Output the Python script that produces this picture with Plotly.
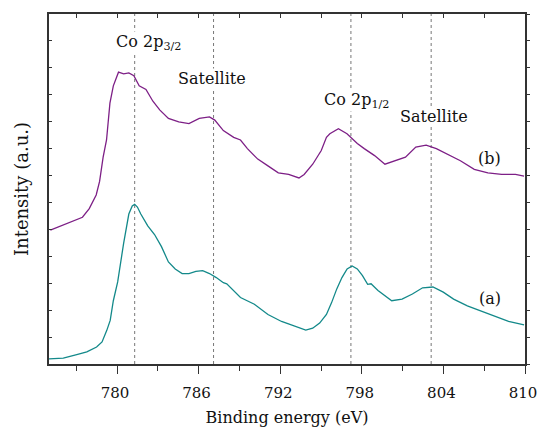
import plotly.graph_objects as go

# Curve (a) - teal
energy_a = [775.0, 776.05, 777.04, 777.78, 778.5, 778.9, 779.25, 779.5, 779.73, 780.05,
            780.49, 780.87, 781.12, 781.3, 781.5, 781.75, 782.26, 782.76, 783.27, 783.78,
            784.28, 784.79, 785.29, 785.8, 786.3, 786.8, 787.3, 787.82, 788.07, 789.08,
            790.1, 791.1, 792.1, 793.12, 793.88, 794.39, 794.9, 795.4, 795.78, 796.16,
            796.54, 796.92, 797.29, 797.67, 798.05, 798.43, 798.68, 799.19, 799.7, 800.2,
            800.96, 801.72, 802.47, 803.23, 803.99, 804.75, 805.76, 806.77, 807.78, 808.79,
            809.93]
intensity_a = [0.19, 0.22, 0.35, 0.45, 0.63, 0.82, 1.25, 1.62, 2.35, 3.05,
               4.49, 5.57, 5.87, 5.93, 5.83, 5.57, 5.13, 4.81, 4.36, 3.79,
               3.53, 3.36, 3.36, 3.44, 3.47, 3.36, 3.21, 3.02, 2.98, 2.47,
               2.22, 1.84, 1.58, 1.39, 1.26, 1.33, 1.52, 1.84, 2.28, 2.79,
               3.21, 3.53, 3.64, 3.53, 3.28, 2.96, 2.98, 2.73, 2.54, 2.35,
               2.41, 2.60, 2.83, 2.86, 2.67, 2.41, 2.16, 1.96, 1.77, 1.58,
               1.45]

# Curve (b) - purple
energy_b = [775.1, 776.44, 777.46, 777.96, 778.47, 778.72, 778.98, 779.23, 779.48, 779.73,
            780.11, 780.49, 780.87, 781.24, 781.63, 782.13, 782.64, 783.14, 783.78, 784.54,
            785.29, 786.05, 786.8, 787.19, 787.82, 788.58, 789.08, 789.59, 790.35, 791.1,
            791.86, 792.62, 793.38, 793.76, 794.39, 795.02, 795.4, 795.65, 796.28, 796.91,
            797.29, 797.67, 798.18, 798.94, 799.7, 800.45, 801.21, 801.97, 802.73, 803.48,
            804.24, 805.25, 806.27, 807.27, 808.28, 809.3, 809.93]
intensity_b = [4.97, 5.25, 5.45, 5.77, 6.28, 6.78, 7.68, 8.32, 9.69, 10.33,
               10.84, 10.78, 10.81, 10.71, 10.33, 10.20, 9.76, 9.44, 9.12, 8.99,
               8.93, 9.12, 9.18, 9.06, 8.67, 8.42, 8.32, 8.00, 7.61, 7.36,
               7.10, 7.04, 6.91, 7.04, 7.42, 7.93, 8.42, 8.55, 8.74, 8.55,
               8.35, 8.19, 8.00, 7.74, 7.42, 7.55, 7.68, 8.06, 8.13, 8.00,
               7.81, 7.55, 7.23, 7.10, 7.04, 7.04, 6.98]

peak_positions = [781.3, 787.1, 797.2, 803.1]
peak_labels = ["Co 2p<sub>3/2</sub>", "Satellite", "Co 2p<sub>1/2</sub>", "Satellite"]
peak_label_x = [782.3, 787.0, 797.6, 803.3]
peak_label_y = [11.96, 10.62, 9.8, 9.18]
curve_labels = ["(b)", "(a)"]
curve_label_x = [807.4, 807.4]
curve_label_y = [7.65, 2.44]

x_range = [775, 810]
y_range = [0, 13]

FONT = "DejaVu Serif"
AX = "#333333"

fig = go.Figure()
fig.add_trace(go.Scatter(x=energy_a, y=intensity_a, mode="lines",
                         line=dict(color="#13898a", width=1.3), showlegend=False))
fig.add_trace(go.Scatter(x=energy_b, y=intensity_b, mode="lines",
                         line=dict(color="#7d1f86", width=1.3), showlegend=False))
# invisible trace to activate mirror axes
fig.add_trace(go.Scatter(x=x_range, y=y_range, xaxis="x2", yaxis="y2", mode="lines",
                         line=dict(width=0), opacity=0, showlegend=False, hoverinfo="skip"))

for xp in peak_positions:
    fig.add_vline(x=xp, line=dict(color="#777777", width=1, dash="3px,3px"), layer="below")

for t, xx, yy in zip(peak_labels, peak_label_x, peak_label_y):
    fig.add_annotation(x=xx, y=yy, text=t, showarrow=False, bgcolor="white", borderpad=0,
                       font=dict(family=FONT, size=16, color="#111111"))
for t, xx, yy in zip(curve_labels, curve_label_x, curve_label_y):
    fig.add_annotation(x=xx, y=yy, text=t, showarrow=False, bgcolor="white", borderpad=0,
                       font=dict(family=FONT, size=16, color="#111111"))

fig.update_layout(
    width=538, height=428,
    margin=dict(l=49, r=13, t=14, b=64, autoexpand=False),
    paper_bgcolor="white", plot_bgcolor="white",
    font=dict(family=FONT, size=15, color="#111111"),
    xaxis=dict(range=x_range, tick0=780, dtick=6, ticks="outside", ticklen=8, tickwidth=1.3,
               tickcolor=AX, showline=True, linecolor=AX, linewidth=1.5, showgrid=False,
               zeroline=False, automargin=False, tickfont=dict(family=FONT, size=15),
               ticklabeloverflow="allow", ticklabelstandoff=6, ticklabelshift=-2,
               minor=dict(dtick=3, tick0=777, ticks="outside", ticklen=5, tickcolor=AX, tickwidth=1.3),
               title=dict(text="Binding energy (eV)", font=dict(family=FONT, size=16), standoff=11)),
    xaxis2=dict(range=x_range, overlaying="x", side="top", tick0=777, dtick=3, ticks="inside",
                ticklen=4, tickcolor=AX, tickwidth=1.2, showline=True, linecolor=AX, linewidth=1.5,
                showticklabels=False, showgrid=False, zeroline=False, automargin=False),
    yaxis=dict(range=y_range, dtick=1, ticks="inside", ticklen=3, tickcolor=AX, tickwidth=1.2,
               showline=True, linecolor=AX, linewidth=1.5, showticklabels=False, showgrid=False,
               zeroline=False, automargin=False,
               title=dict(text="Intensity (a.u.)", font=dict(family=FONT, size=18), standoff=14)),
    yaxis2=dict(range=y_range, overlaying="y", side="right", dtick=1, ticks="outside", ticklen=3,
                tickcolor=AX, tickwidth=1.2, showline=True, linecolor=AX, linewidth=1.5,
                showticklabels=False, showgrid=False, zeroline=False, automargin=False),
)

fig.write_html("out.html")
